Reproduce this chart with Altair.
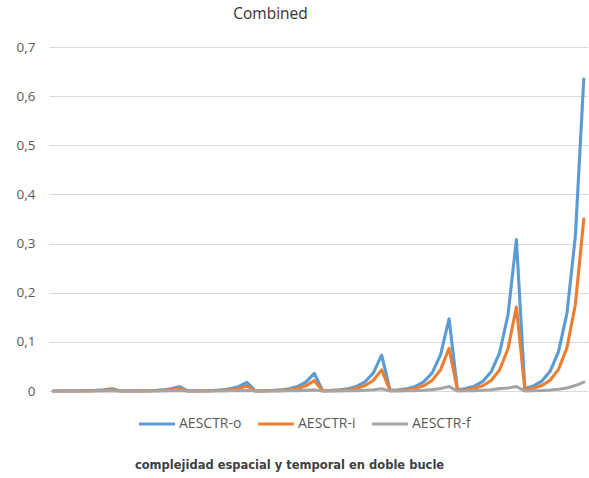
import altair as alt
import pandas as pd

series_names = ["AESCTR-o", "AESCTR-i", "AESCTR-f"]
series_colors = ["#5B9BD5", "#ED7D31", "#A5A5A5"]

aesctr_o = [
    0.0000, 0.0001, 0.0002, 0.0004, 0.0007, 0.0012, 0.0023, 0.0046,
    0.0001, 0.0002, 0.0003, 0.0006, 0.0011, 0.0022, 0.0044, 0.0088,
    0.0002, 0.0003, 0.0006, 0.0011, 0.0022, 0.0044, 0.0088, 0.0175,
    0.0003, 0.0006, 0.0011, 0.0022, 0.0045, 0.0090, 0.0180, 0.0360,
    0.0006, 0.0012, 0.0023, 0.0046, 0.0092, 0.0183, 0.0365, 0.0730,
    0.0012, 0.0024, 0.0047, 0.0094, 0.0187, 0.0370, 0.0740, 0.1470,
    0.0025, 0.0050, 0.0098, 0.0195, 0.0390, 0.0775, 0.1550, 0.3080,
    0.0050, 0.0100, 0.0200, 0.0400, 0.0800, 0.1580, 0.3150, 0.6350,
]
aesctr_i = [
    0.0000, 0.0000, 0.0001, 0.0002, 0.0003, 0.0006, 0.0012, 0.0025,
    0.0000, 0.0001, 0.0002, 0.0003, 0.0006, 0.0013, 0.0025, 0.0050,
    0.0001, 0.0002, 0.0003, 0.0006, 0.0013, 0.0026, 0.0051, 0.0102,
    0.0002, 0.0003, 0.0007, 0.0013, 0.0026, 0.0053, 0.0105, 0.0210,
    0.0003, 0.0007, 0.0013, 0.0027, 0.0054, 0.0107, 0.0214, 0.0430,
    0.0007, 0.0013, 0.0027, 0.0054, 0.0108, 0.0216, 0.0434, 0.0870,
    0.0014, 0.0027, 0.0054, 0.0107, 0.0214, 0.0428, 0.0860, 0.1710,
    0.0028, 0.0055, 0.0110, 0.0220, 0.0440, 0.0880, 0.1760, 0.3500,
]
aesctr_f = [
    0.0000, 0.0000, 0.0000, 0.0000, 0.0001, 0.0001, 0.0002, 0.0003,
    0.0000, 0.0000, 0.0000, 0.0001, 0.0001, 0.0002, 0.0004, 0.0006,
    0.0000, 0.0000, 0.0001, 0.0001, 0.0002, 0.0004, 0.0007, 0.0011,
    0.0000, 0.0001, 0.0001, 0.0002, 0.0004, 0.0007, 0.0013, 0.0022,
    0.0001, 0.0001, 0.0002, 0.0004, 0.0008, 0.0014, 0.0026, 0.0045,
    0.0001, 0.0002, 0.0004, 0.0008, 0.0015, 0.0028, 0.0052, 0.0090,
    0.0002, 0.0004, 0.0007, 0.0014, 0.0026, 0.0048, 0.0060, 0.0090,
    0.0003, 0.0005, 0.0010, 0.0020, 0.0035, 0.0060, 0.0110, 0.0180,
]

rows = []
for name, vals in zip(series_names, [aesctr_o, aesctr_i, aesctr_f]):
    for i, v in enumerate(vals):
        rows.append({"idx": i, "serie": name, "valor": v})
df = pd.DataFrame(rows)

FONT = "Open Sans"

chart = alt.Chart(df).mark_line(strokeWidth=3.1, strokeJoin="round", strokeCap="round").encode(
    x=alt.X("idx:Q", scale=alt.Scale(domain=[-0.5, 63.5], nice=False, zero=False),
            axis=alt.Axis(labels=False, ticks=False, domain=False, grid=False,
                          title="complejidad espacial y temporal en doble bucle",
                          titleFont="DejaVu Sans", titleFontSize=11.5, titleFontWeight="bold",
                          titleColor="#404040", titlePadding=68, titleX=240,
                          titleAlign="center")),
    y=alt.Y("valor:Q", scale=alt.Scale(domain=[0, 0.7], nice=False),
            axis=alt.Axis(values=[0, 0.1, 0.2, 0.3, 0.4, 0.5, 0.6, 0.7],
                          labelExpr="datum.value == 0 ? '0' : replace(format(datum.value, '.1f'), '.', ',')",
                          title=None, domain=False, ticks=False, gridColor="#D9D9D9",
                          gridWidth=1, labelColor="#595959", labelFont=FONT,
                          labelFontSize=13.5, labelPadding=14)),
    color=alt.Color("serie:N", sort=series_names,
                    scale=alt.Scale(domain=series_names, range=series_colors),
                    legend=alt.Legend(title=None, orient="none", direction="horizontal",
                                      legendX=88, legendY=357, symbolType="stroke",
                                      symbolSize=1300, symbolStrokeWidth=3,
                                      labelFont=FONT, labelFontSize=14,
                                      labelColor="#595959", labelOffset=2,
                                      columnPadding=9)),
    order="idx:Q",
).properties(
    width=539, height=344,
    title=alt.TitleParams("Combined", font=FONT, fontSize=15.5, fontWeight="normal",
                          color="#333333", anchor="middle", dx=-48, offset=18),
    autosize=alt.AutoSizeParams(type="none"),
    padding={"left": 49, "top": 47, "right": 1, "bottom": 87},
).configure_view(stroke=None)

chart.save("out.html", embed_options={"renderer": "svg", "actions": False})
